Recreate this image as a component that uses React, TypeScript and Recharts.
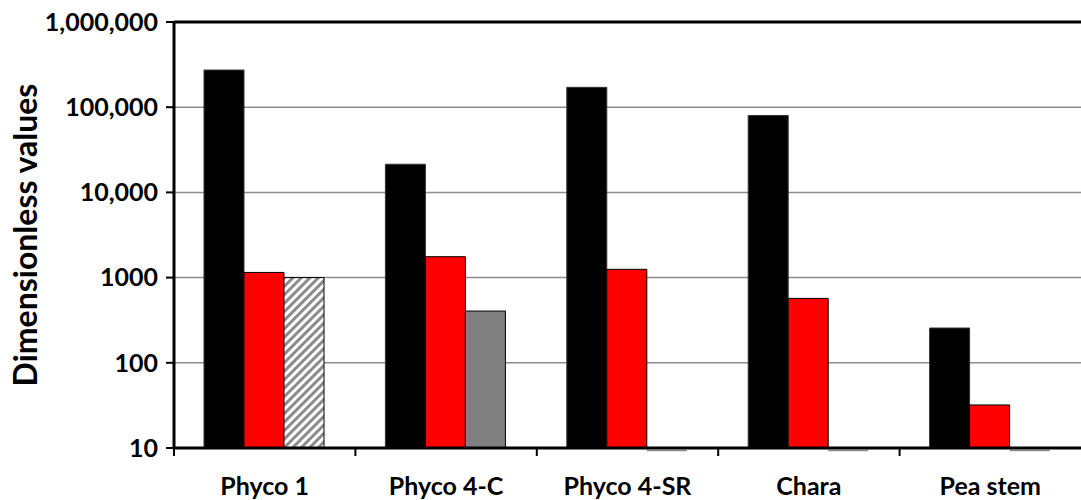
import React from "react";
import {
  BarChart,
  Bar,
  XAxis,
  YAxis,
  CartesianGrid,
  ReferenceLine,
  Cell,
  Label,
} from "recharts";

const categories = ["Phyco 1", "Phyco 4-C", "Phyco 4-SR", "Chara", "Pea stem"];
const blackValues = [273000, 21400, 171000, 80000, 256];
const redValues = [1150, 1760, 1250, 570, 32];
const greyValues = [1000, 405, 10, 10, 10];
const yTicks = [10, 100, 1000, 10000, 100000, 1000000];

const data = categories.map((name, i) => ({
  name,
  black: blackValues[i],
  red: redValues[i],
  grey: greyValues[i],
}));

const CHART_W = 1081;
const CHART_H = 500;
const Y_AXIS_W = 174;
const X_AXIS_H = 52;
const FONT = "Lato, 'Open Sans', sans-serif";

const greyFills = ["url(#hatch)", "#808080", "#808080", "#808080", "#808080"];

const band = (CHART_W - Y_AXIS_W) / categories.length;

const fmt = (v: number) => (v >= 10000 ? v.toLocaleString("en-US") : String(v));

const XTick = (props: any) => {
  const { x, y, payload } = props;
  return (
    <g>
      <line x1={x - band / 2} x2={x - band / 2} y1={y - 8} y2={y} stroke="#000" strokeWidth={2} />
      <text
        x={x}
        y={y + 39}
        textAnchor="middle"
        fontFamily={FONT}
        fontWeight={700}
        fontSize={25}
        fill="#000"
      >
        {payload.value}
      </text>
    </g>
  );
};

// bars sitting on the axis minimum show up as a thin grey line under the axis
const GreyShape = (p: any) => {
  if (!p.height || p.height <= 1.5) {
    const yy = p.y + (p.height || 0) + 2.5;
    return (
      <line x1={p.x} x2={p.x + p.width} y1={yy} y2={yy} stroke="#8c8c8c" strokeWidth={1.5} />
    );
  }
  return (
    <rect x={p.x} y={p.y} width={p.width} height={p.height} fill={p.fill} stroke="#000" strokeWidth={1} />
  );
};

const YLabel = (props: any) => {
  const vb = props.viewBox;
  const cx = 24;
  const cy = vb.y + vb.height / 2;
  return (
    <text
      x={cx}
      y={cy}
      transform={`rotate(-90, ${cx}, ${cy})`}
      textAnchor="middle"
      dominantBaseline="central"
      fontFamily={FONT}
      fontWeight={700}
      fontSize={32}
      fill="#000"
    >
      Dimensionless values
    </text>
  );
};

export default function App() {
  return (
    <div style={{ position: "absolute", left: 0, top: 0, background: "#fff" }}>
      <BarChart
        width={CHART_W}
        height={CHART_H}
        data={data}
        margin={{ top: 22, right: 0, left: 0, bottom: 0 }}
        barCategoryGap={30}
        barGap={0}
      >
        <defs>
          <pattern
            id="hatch"
            width={6}
            height={6}
            patternUnits="userSpaceOnUse"
            patternTransform="rotate(45)"
          >
            <rect width={6} height={6} fill="#fff" />
            <line x1={1.5} y1={0} x2={1.5} y2={6} stroke="#8c8c8c" strokeWidth={3} />
          </pattern>
        </defs>
        <CartesianGrid vertical={false} stroke="#8c8c8c" strokeWidth={1.5} />
        <XAxis
          dataKey="name"
          height={X_AXIS_H}
          axisLine={{ stroke: "#000", strokeWidth: 3 }}
          tickLine={{ stroke: "none" }}
          tickSize={8}
          tickMargin={0}
          tick={<XTick />}
          interval={0}
        />
        <YAxis
          type="number"
          scale="log"
          domain={[10, 1000000]}
          ticks={yTicks}
          width={Y_AXIS_W}
          axisLine={{ stroke: "#000", strokeWidth: 3 }}
          tickLine={{ stroke: "#000", strokeWidth: 2 }}
          tickSize={8}
          tickMargin={8}
          tickFormatter={fmt}
          tick={{ fontFamily: FONT, fontWeight: 700, fontSize: 25, fill: "#000" }}
        >
          <Label content={<YLabel />} />
        </YAxis>
        <Bar dataKey="black" fill="#000" stroke="#333" strokeWidth={1} isAnimationActive={false} />
        <Bar dataKey="red" fill="#ff0000" stroke="#000" strokeWidth={1} isAnimationActive={false} />
        <Bar dataKey="grey" shape={<GreyShape />} minPointSize={1} isAnimationActive={false}>
          {data.map((_, i) => (
            <Cell key={`c-${i}`} fill={greyFills[i]} />
          ))}
        </Bar>
        <ReferenceLine y={1000000} stroke="#000" strokeWidth={3} />
      </BarChart>
    </div>
  );
}
